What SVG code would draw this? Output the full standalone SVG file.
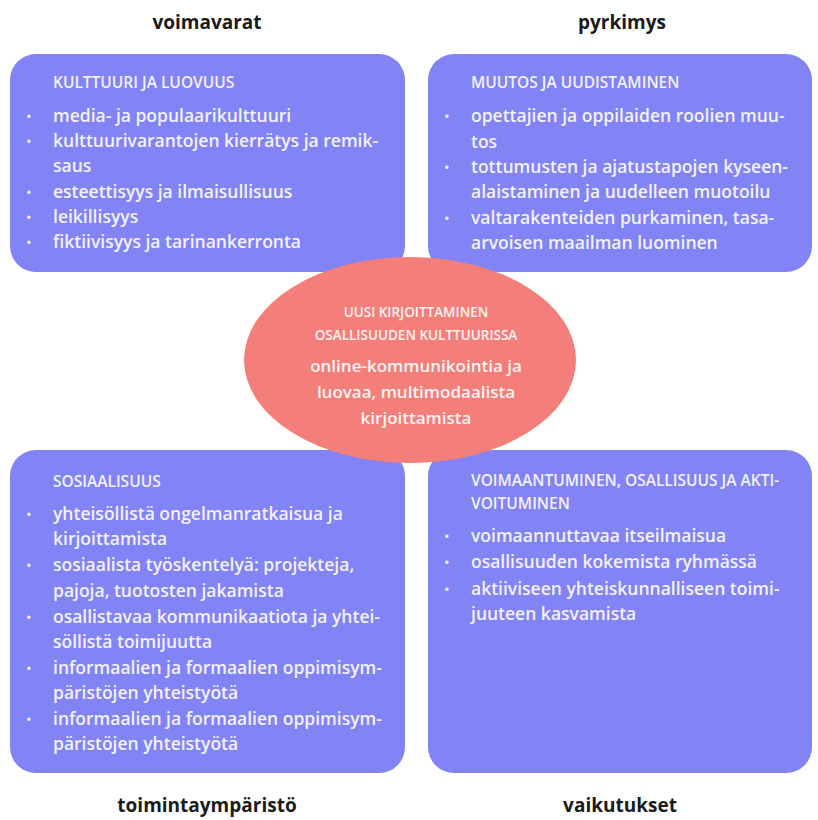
<svg xmlns="http://www.w3.org/2000/svg" width="818" height="820" viewBox="0 0 818 820">
<style>
.bg{fill:#ffffff}
.box{fill:#8283f5}
.ell{fill:#f47e7a}
.hd{font-family:"Open Sans","Noto Sans",sans-serif;font-weight:bold;font-size:19px;fill:#1a1a1a;text-anchor:middle}
.ttl{font-family:"Open Sans","Noto Sans",sans-serif;font-weight:600;font-size:15.5px;fill:#f2f2ff}
.it{font-family:"Open Sans","Noto Sans",sans-serif;font-weight:600;font-size:17.5px;fill:#f2f2ff}
.bul{font-family:"Open Sans","Noto Sans",sans-serif;font-size:15px;fill:#f2f2ff}
.ct{font-family:"Open Sans","Noto Sans",sans-serif;font-weight:600;font-size:13.5px;fill:#fff4f2;text-anchor:middle}
.cm{font-family:"Open Sans","Noto Sans",sans-serif;font-weight:600;font-size:17px;fill:#fff4f2;text-anchor:middle}
</style>
<rect class="bg" x="0" y="0" width="818" height="820"/>

<g id="labels">
<text class="hd" x="207" y="29">voimavarat</text>
<text class="hd" x="622" y="29">pyrkimys</text>
<text class="hd" x="207" y="812">toimintaympäristö</text>
<text class="hd" x="620" y="812">vaikutukset</text>
</g>

<g id="box-voimavarat">
<rect class="box" x="10" y="54" width="395" height="218" rx="26"/>
<text class="ttl" x="53" y="88">KULTTUURI JA LUOVUUS</text>
<text class="bul" x="26" y="122">•</text><text class="it" x="53" y="122">media- ja populaarikulttuuri</text>
<text class="bul" x="26" y="147">•</text><text class="it" x="53" y="147">kulttuurivarantojen kierrätys ja remik-</text>
<text class="it" x="53" y="172">saus</text>
<text class="bul" x="26" y="198">•</text><text class="it" x="53" y="198">esteettisyys ja ilmaisullisuus</text>
<text class="bul" x="26" y="223">•</text><text class="it" x="53" y="223">leikillisyys</text>
<text class="bul" x="26" y="248">•</text><text class="it" x="53" y="248">fiktiivisyys ja tarinankerronta</text>
</g>

<g id="box-pyrkimys">
<rect class="box" x="428" y="54" width="384" height="218" rx="26"/>
<text class="ttl" x="471" y="88">MUUTOS JA UUDISTAMINEN</text>
<text class="bul" x="444" y="122">•</text><text class="it" x="471" y="122">opettajien ja oppilaiden roolien muu-</text>
<text class="it" x="471" y="148">tos</text>
<text class="bul" x="444" y="173">•</text><text class="it" x="471" y="173">tottumusten ja ajatustapojen kyseen-</text>
<text class="it" x="471" y="198">alaistaminen ja uudelleen muotoilu</text>
<text class="bul" x="444" y="224">•</text><text class="it" x="471" y="224">valtarakenteiden purkaminen, tasa-</text>
<text class="it" x="471" y="249">arvoisen maailman luominen</text>
</g>

<g id="box-toimintaymparisto">
<rect class="box" x="10" y="450" width="395" height="323" rx="26"/>
<text class="ttl" x="53" y="487">SOSIAALISUUS</text>
<text class="bul" x="26" y="520">•</text><text class="it" x="53" y="520">yhteisöllistä ongelmanratkaisua ja</text>
<text class="it" x="53" y="545">kirjoittamista</text>
<text class="bul" x="26" y="571">•</text><text class="it" x="53" y="571">sosiaalista työskentelyä: projekteja,</text>
<text class="it" x="53" y="597">pajoja, tuotosten jakamista</text>
<text class="bul" x="26" y="623">•</text><text class="it" x="53" y="623">osallistavaa kommunikaatiota ja yhtei-</text>
<text class="it" x="53" y="648">söllistä toimijuutta</text>
<text class="bul" x="26" y="674">•</text><text class="it" x="53" y="674">informaalien ja formaalien oppimisym-</text>
<text class="it" x="53" y="699">päristöjen yhteistyötä</text>
<text class="bul" x="26" y="725">•</text><text class="it" x="53" y="725">informaalien ja formaalien oppimisym-</text>
<text class="it" x="53" y="750">päristöjen yhteistyötä</text>
</g>

<g id="box-vaikutukset">
<rect class="box" x="428" y="450" width="384" height="323" rx="26"/>
<text class="ttl" x="471" y="486">VOIMAANTUMINEN, OSALLISUUS JA AKTI-</text>
<text class="ttl" x="471" y="509">VOITUMINEN</text>
<text class="bul" x="444" y="542">•</text><text class="it" x="471" y="542">voimaannuttavaa itseilmaisua</text>
<text class="bul" x="444" y="568">•</text><text class="it" x="471" y="568">osallisuuden kokemista ryhmässä</text>
<text class="bul" x="444" y="595">•</text><text class="it" x="471" y="595">aktiiviseen yhteiskunnalliseen toimi-</text>
<text class="it" x="471" y="620">juuteen kasvamista</text>
</g>

<g id="center">
<ellipse class="ell" cx="410" cy="360" rx="166" ry="103"/>
<text class="ct" x="416" y="317">UUSI KIRJOITTAMINEN</text>
<text class="ct" x="416" y="340">OSALLISUUDEN KULTTUURISSA</text>
<text class="cm" x="416" y="372">online-kommunikointia ja</text>
<text class="cm" x="416" y="398">luovaa, multimodaalista</text>
<text class="cm" x="416" y="424">kirjoittamista</text>
</g>
</svg>
